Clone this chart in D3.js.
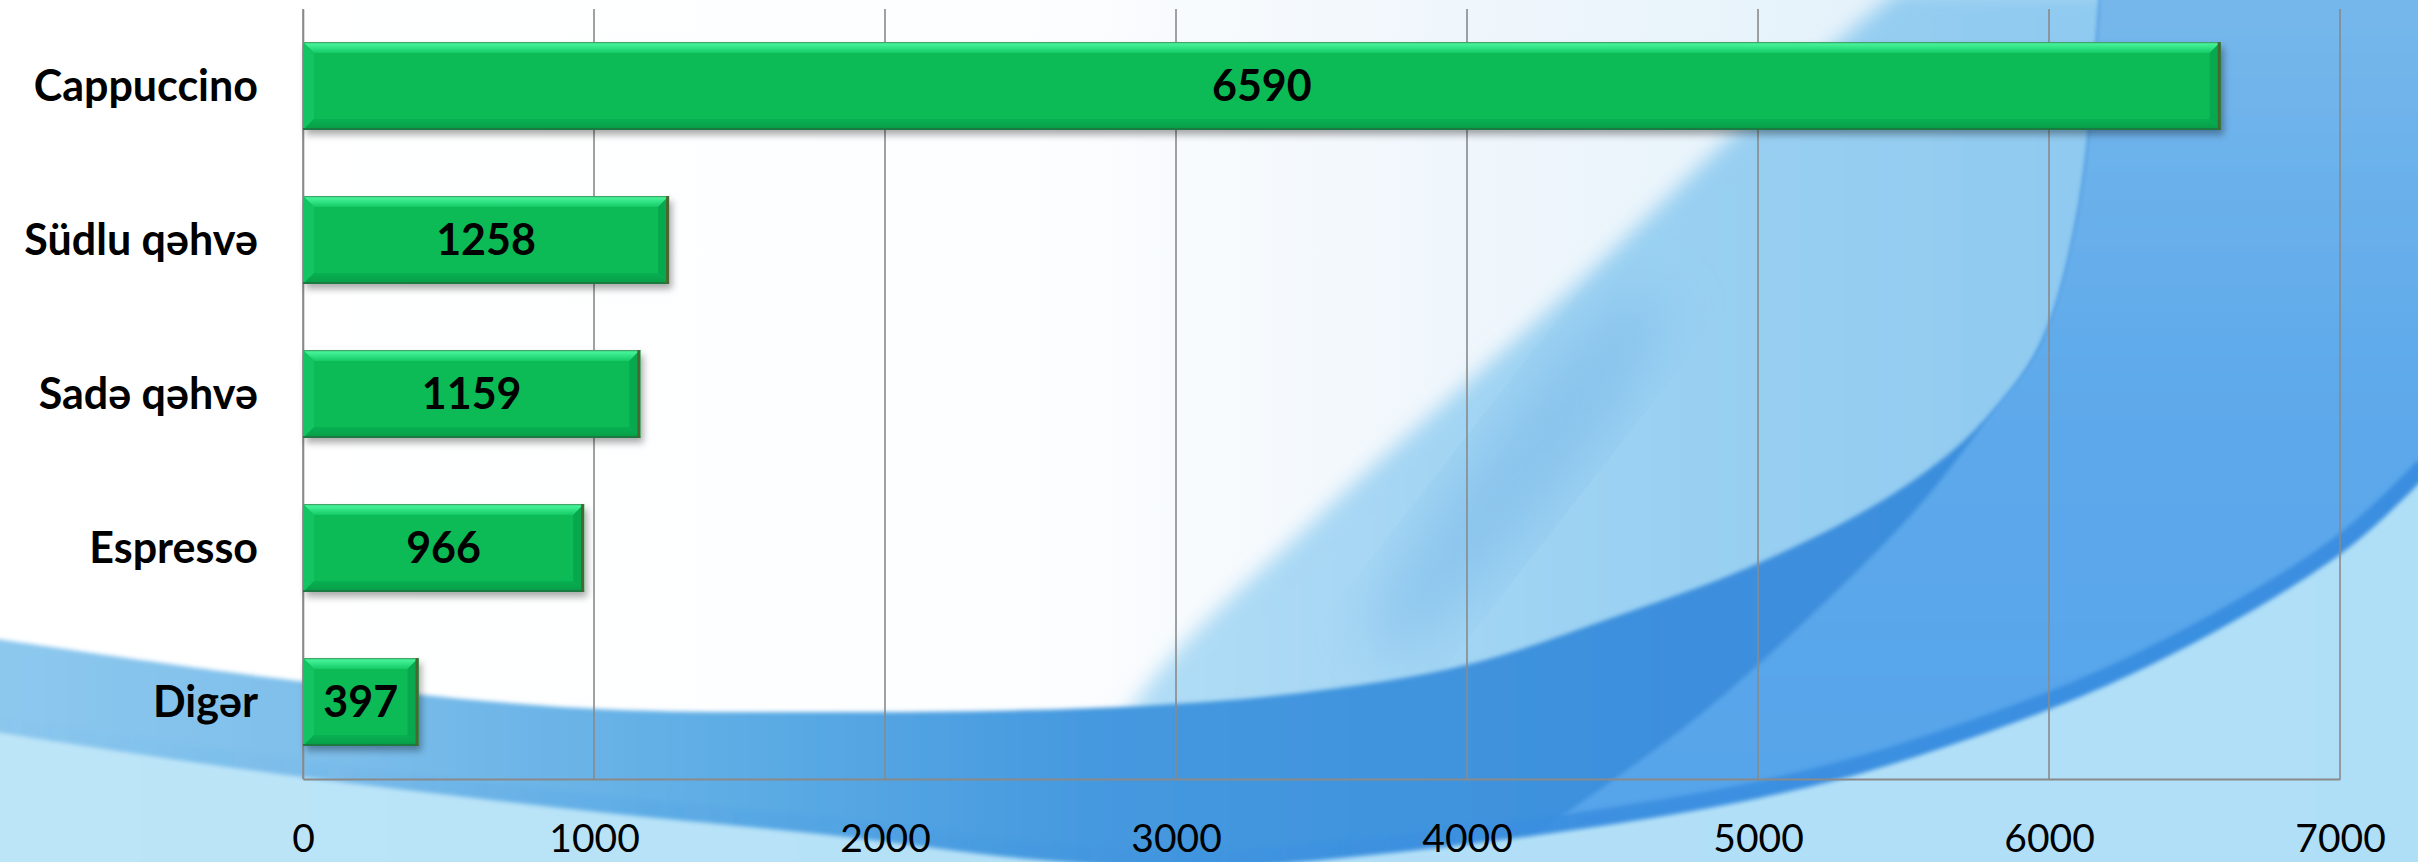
<!DOCTYPE html>
<html>
<head>
<meta charset="utf-8">
<script src="https://cdn.jsdelivr.net/npm/d3@7"></script>
<style>
  html, body { margin: 0; padding: 0; background: #fff; overflow: hidden; }
  svg { display: block; }
</style>
</head>
<body>
<svg id="chart" width="2418" height="862"></svg>
<script>
// Coffee sales by type
const categories = ["Cappuccino", "Südlu qəhvə", "Sadə qəhvə", "Espresso", "Digər"];
const sales = [6590, 1258, 1159, 966, 397];
const tickValues = [0, 1000, 2000, 3000, 4000, 5000, 6000, 7000];

const W = 2418, H = 862;
const plot = { left: 303, right: 2340, top: 9, bottom: 779 };
const FONT = "Lato, 'Open Sans', 'DejaVu Sans', sans-serif";

const svg = d3.select("#chart");
const defs = svg.append("defs");

function linearGrad(id, stops, x1, y1, x2, y2, units) {
  const g = defs.append("linearGradient").attr("id", id)
    .attr("x1", x1).attr("y1", y1).attr("x2", x2).attr("y2", y2);
  if (units) g.attr("gradientUnits", units);
  stops.forEach(([o, c, a]) => g.append("stop").attr("offset", o)
    .attr("stop-color", c).attr("stop-opacity", a == null ? 1 : a));
}

// ---------- background swoosh ----------
linearGrad("bgBase", [[0, "#ffffff"], [0.42, "#fdfeff"], [0.58, "#f1f7fc"], [1, "#d6ecf9"]], 0, 0, 1, 0);
linearGrad("wedge", [[0, "#b4def6"], [0.4, "#9bd1f2"], [1, "#86c4ee"]], 0, 0, 1, 0);
linearGrad("band", [[0, "#8dc8ee"], [0.12, "#80c0eb"], [0.3, "#5eade5"], [0.45, "#4599df"], [0.7, "#3c8fdd"], [1, "#3b8cdc"]], 0, 0, 1, 0);
linearGrad("inner", [[0, "#76b8eb"], [0.45, "#5ea9eb"], [1, "#55a3ea"]], 0, 0, 0, 1);
linearGrad("lower", [[0, "#bde5f8"], [0.5, "#b3e0f7"], [1, "#afdff7"]], 0, 0, 1, 0);
linearGrad("rim", [[0, "#3d90e0", 0], [0.45, "#3d90e0", 0.2], [0.65, "#3a8ee0", 0.9], [1, "#3a8ee0", 1]], 0, 0, 1, 0);

const blur = (id, s) => defs.append("filter").attr("id", id)
  .attr("x", "-20%").attr("y", "-20%").attr("width", "140%").attr("height", "140%")
  .append("feGaussianBlur").attr("stdDeviation", s);
blur("soft", 10);
blur("softer", 28);
blur("edge", 2);

const smooth = d3.line().curve(d3.curveCatmullRom.alpha(0.5));

const bg = svg.append("g").attr("class", "background");
bg.append("rect").attr("width", W).attr("height", H).attr("fill", "url(#bgBase)");

// pale diagonal sweep above the main band
const wedgeEdge = [[1060, 880], [1134, 705], [1320, 515], [1560, 300], [1760, 110], [1899, -10]];
bg.append("path")
  .attr("d", smooth(wedgeEdge) + `L${W + 40},-10L${W + 40},${H + 40}L1060,${H + 40}Z`)
  .attr("fill", "url(#wedge)").attr("filter", "url(#soft)");
bg.append("ellipse").attr("cx", 1520).attr("cy", 470).attr("rx", 230).attr("ry", 45)
  .attr("transform", "rotate(-52 1520 470)")
  .attr("fill", "#78b7e8").attr("opacity", 0.55).attr("filter", "url(#softer)");

// main band: upper boundary
const bandTop = [[-10, 638], [290, 680], [580, 708], [829, 712], [1119, 707], [1300, 693],
  [1466, 665], [1620, 615], [1759, 563], [1893, 494], [1977, 428], [2040, 345], [2080, 200], [2100, -10]];
bg.append("path")
  .attr("d", smooth(bandTop) + `L${W + 10},-10L${W + 10},${H + 10}L-10,${H + 10}Z`)
  .attr("fill", "url(#band)").attr("filter", "url(#edge)");

// lighter inner sweep inside the band
const innerEdge = [[1440, 900], [1565, 814], [1700, 715], [1822, 605], [1920, 505], [1990, 415],
  [2040, 345], [2080, 200], [2100, -10]];
bg.append("path")
  .attr("d", smooth(innerEdge) + `L${W + 10},-10L${W + 10},${H + 20}Z`)
  .attr("fill", "url(#inner)").attr("filter", "url(#edge)");

// lower boundary of band
const bandBottom = [[-10, 731], [249, 770], [580, 810], [829, 835], [1040, 860], [1200, 868],
  [1400, 852], [1588, 828], [1760, 798], [1899, 762], [2132, 674], [2342, 553], [2430, 472]];
bg.append("path").attr("d", smooth(bandBottom))
  .attr("fill", "none").attr("stroke", "url(#rim)").attr("stroke-width", 34)
  .attr("filter", "url(#edge)");
bg.append("path")
  .attr("d", smooth(bandBottom) + `L${W + 10},${H + 10}L-10,${H + 10}Z`)
  .attr("fill", "url(#lower)").attr("filter", "url(#edge)");

// ---------- scales ----------
const x = d3.scaleLinear().domain([0, 7000]).range([plot.left, plot.right]);
const y = d3.scaleBand().domain(categories).range([plot.top, plot.bottom])
  .paddingInner(0.43).paddingOuter(0.215);

// ---------- grid & axes ----------
const grid = svg.append("g").attr("class", "grid");
grid.selectAll("line.v").data(tickValues).join("line").attr("class", "v")
  .attr("x1", d => x(d)).attr("x2", d => x(d))
  .attr("y1", plot.top).attr("y2", plot.bottom)
  .attr("stroke", "#8a8a8a").attr("stroke-width", 1.6);

const xAxis = d3.axisBottom(x).tickValues(tickValues).tickSize(0).tickPadding(0)
  .tickFormat(d3.format("d"));
const gx = svg.append("g").attr("transform", `translate(0,${plot.bottom})`).call(xAxis);
gx.select(".domain").attr("stroke", "#8a8a8a").attr("stroke-width", 2);
gx.selectAll("text")
  .attr("font-family", FONT).attr("font-size", 39).attr("fill", "#000")
  .attr("dy", null).attr("y", 73);

const yAxis = d3.axisLeft(y).tickSize(0).tickPadding(0);
const gy = svg.append("g").attr("transform", `translate(${plot.left},0)`).call(yAxis);
gy.select(".domain").attr("stroke", "#8a8a8a").attr("stroke-width", 1.6);
gy.selectAll("text")
  .attr("font-family", FONT).attr("font-size", 43).attr("font-weight", 700).attr("fill", "#000")
  .attr("x", -(plot.left - 258)).attr("dy", "0.36em");

// ---------- bars ----------
linearGrad("bevTop", [[0, "#52f7a2"], [0.35, "#3aeb8e"], [1, "#14c965"]], 0, 0, 0, 1);
linearGrad("bevBottom", [[0, "#08b052"], [1, "#079c47"]], 0, 0, 0, 1);
const sh = defs.append("filter").attr("id", "barShadow")
  .attr("x", "-5%").attr("y", "-20%").attr("width", "115%").attr("height", "150%");
sh.append("feDropShadow").attr("dx", 3).attr("dy", 5).attr("stdDeviation", 3.5)
  .attr("flood-color", "#000").attr("flood-opacity", 0.33);

const rows = categories.map((c, i) => ({ cat: c, val: sales[i] }));
const B = 11;
const bars = svg.append("g").attr("class", "bars").selectAll("g").data(rows).join("g")
  .attr("transform", d => `translate(${x(0)},${y(d.cat)})`);

const bw = d => x(d.val) - x(0);
const bh = y.bandwidth();

bars.append("rect").attr("width", bw).attr("height", bh)
  .attr("fill", "#07bb57").attr("filter", "url(#barShadow)");
bars.append("polygon").attr("fill", "url(#bevTop)")
  .attr("points", d => `0,0 ${bw(d)},0 ${bw(d) - B},${B} ${B},${B}`);
bars.append("polygon").attr("fill", "#12c462")
  .attr("points", d => `0,0 ${B},${B} ${B},${bh - B} 0,${bh}`);
bars.append("polygon").attr("fill", "url(#bevBottom)")
  .attr("points", d => `0,${bh} ${B},${bh - B} ${bw(d) - B},${bh - B} ${bw(d)},${bh}`);
bars.append("polygon").attr("fill", "#08a94e")
  .attr("points", d => `${bw(d)},0 ${bw(d)},${bh} ${bw(d) - B},${bh - B} ${bw(d) - B},${B}`);
// crisp edges
bars.append("line").attr("x1", 0).attr("x2", bw).attr("y1", 0.6).attr("y2", 0.6)
  .attr("stroke", "#3da86a").attr("stroke-width", 1.2);
bars.append("line").attr("x1", 0).attr("x2", bw).attr("y1", bh - 1).attr("y2", bh - 1)
  .attr("stroke", "#1a7a42").attr("stroke-width", 2);
bars.append("line").attr("x1", d => bw(d) - 1.5).attr("x2", d => bw(d) - 1.5)
  .attr("y1", 0).attr("y2", bh)
  .attr("stroke", "#4d6530").attr("stroke-width", 3);

// value labels
bars.append("text")
  .attr("x", d => bw(d) / 2).attr("y", bh / 2).attr("dy", "0.36em")
  .attr("text-anchor", "middle")
  .attr("font-family", FONT).attr("font-size", 43).attr("font-weight", 700).attr("fill", "#000")
  .text(d => d.val);
</script>
</body>
</html>
